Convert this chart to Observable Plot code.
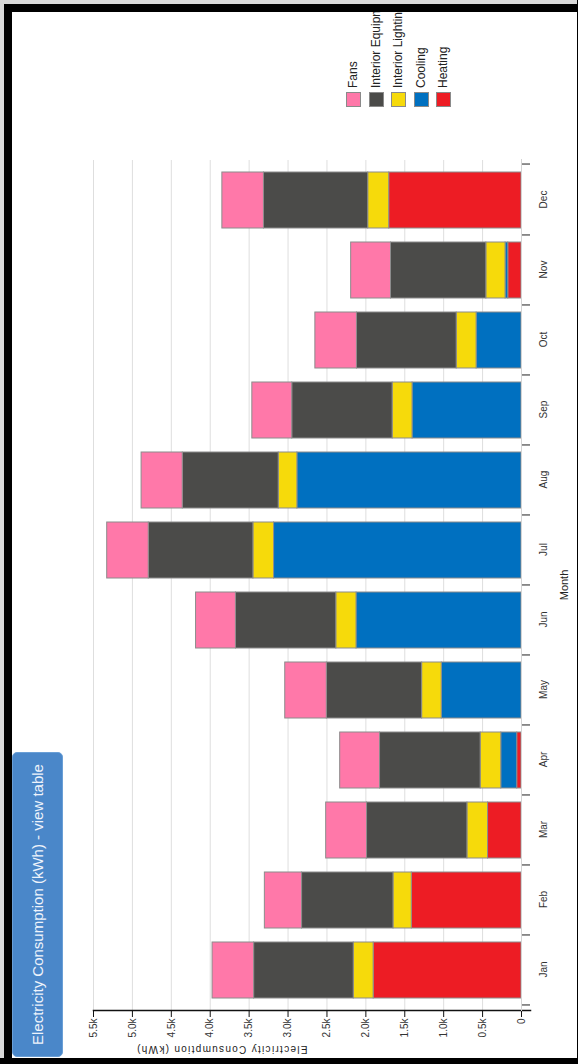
<!DOCTYPE html>
<html>
<head>
<meta charset="utf-8">
<script src="https://cdn.jsdelivr.net/npm/d3@7"></script>
<script src="https://cdn.jsdelivr.net/npm/@observablehq/plot@0.6"></script>
<style>
  html, body { margin: 0; padding: 0; background: #ffffff; overflow: hidden; }
  body { width: 578px; height: 1064px; position: relative; }
  #wrap {
    position: absolute; left: 0; top: 0; width: 1064px; height: 578px;
    transform-origin: 0 0; transform: translate(0, 1064px) rotate(-90deg);
    background: #ffffff; font-family: "Liberation Sans", Arial, sans-serif;
  }
  #chart { position: absolute; left: 0; top: 0; }
  #btn {
    position: absolute; left: 7px; top: 12px; width: 305px; height: 51px;
    background: #4a87c9; border-radius: 5px; border: 1px solid #6a9fd6; box-sizing: border-box;
    color: #eef3fb; font-size: 15px; line-height: 49px; padding-left: 11px; white-space: nowrap;
  }
  #legendclip { position: absolute; left: 950px; top: 330px; width: 102px; height: 140px; overflow: hidden; }
  .lrow { position: absolute; left: 7px; height: 15px; white-space: nowrap; }
  .lsw { position: absolute; left: 0; top: 0; width: 15px; height: 15px; box-sizing: border-box; border: 1px solid #8a8a8a; }
  .llab { position: absolute; left: 19px; top: 0; line-height: 15px; font-size: 12px; color: #222; }
  .bd { position: absolute; }
</style>
</head>
<body>
<div id="wrap">
  <div id="chart"></div>
  <div id="btn">Electricity Consumption (kWh) - view table</div>
  <div id="legendclip"></div>
  <div class="bd" style="left:0;top:0;width:1064px;height:4px;background:#d9d9d9"></div>
  <div class="bd" style="left:0;top:4px;width:1060px;height:8px;background:#000"></div>
  <div class="bd" style="left:0;top:0;width:6px;height:578px;background:#000"></div>
  <div class="bd" style="left:1052px;top:4px;width:8px;height:574px;background:#000"></div>
  <div class="bd" style="left:1060px;top:0;width:4px;height:578px;background:#d9d9d9"></div>
  <div class="bd" style="left:0;top:577px;width:1064px;height:1px;background:#000"></div>
</div>
<script>
// ---- data ----
const months = ["Jan","Feb","Mar","Apr","May","Jun","Jul","Aug","Sep","Oct","Nov","Dec"];
const heating   = [1900, 1410, 430,   55,    0,    0,    0,    0,    0,   0,  170, 1700];
const cooling   = [   0,    0,   0,  205, 1025, 2120, 3180, 2880, 1400, 577,   35,    0];
const lighting  = [ 256,  235, 265,  265,  252,  260,  265,  240,  256, 256,  247,  270];
const equipment = [1280, 1175, 1290, 1293, 1225, 1290, 1345, 1233, 1290, 1282, 1225, 1340];
const fans      = [ 534,  478, 525,  512,  534,  512,  534,  529,  513, 534,  512,  534];
const legendSeries = ["Fans","Interior Equipment","Interior Lighting","Cooling","Heating"];
const legendColors = ["#ff78a9","#4b4b49","#f6da0b","#0070c0","#ed1c24"];
const stackOrder = ["Heating","Cooling","Interior Lighting","Interior Equipment","Fans"];
const yTicks = [0,500,1000,1500,2000,2500,3000,3500,4000,4500,5000,5500];
const yMax = 5500;
const valuesBy = {"Heating": heating, "Cooling": cooling, "Interior Lighting": lighting, "Interior Equipment": equipment, "Fans": fans};

const rows = [];
stackOrder.forEach(s => months.forEach((m, i) => rows.push({month: m, series: s, value: valuesBy[s][i]})));

const W = 1064, H = 578, mL = 53, mR = 160, mT = 93, mB = 57;
const step = (W - mL - mR) / months.length;
const perPx = yMax / (H - mT - mB);
const tickLen = 9;

const fmt = d => d === 0 ? "0" : (d / 1000).toFixed(1) + "k";

const chart = Plot.plot({
  width: W, height: H,
  marginLeft: mL, marginRight: mR, marginTop: mT, marginBottom: mB,
  style: {fontFamily: "'Liberation Sans', Arial, sans-serif", fontSize: "10px", color: "#333", background: "transparent", overflow: "visible"},
  x: {domain: months, paddingInner: 0.2, paddingOuter: 0.1, axis: null},
  y: {domain: [0, yMax], axis: null},
  color: {domain: legendSeries, range: legendColors},
  marks: [
    Plot.gridY(yTicks, {stroke: "#dedede", strokeOpacity: 1, strokeWidth: 1}),
    Plot.barY(rows, Plot.stackY({x: "month", y: "value", fill: "series", order: stackOrder, stroke: "#8c8c8c", strokeWidth: 1})),
    Plot.axisY(yTicks, {tickFormat: fmt, tickSize: 6, tickPadding: 2, fontSize: 10, label: null, stroke: "#111", fill: "#333"}),
    Plot.axisX({tickSize: 0, tickPadding: 18, fontSize: 10, label: null, fill: "#333"}),
    Plot.ruleX(months, {x: d => d, dx: -step / 2, y1: 0, y2: -tickLen * perPx, stroke: "#222"}),
    Plot.ruleX(months.slice(-1), {x: d => d, dx: step / 2, y1: 0, y2: -tickLen * perPx, stroke: "#222"}),
    Plot.frame({anchor: "left", insetBottom: -tickLen, stroke: "#111", strokeWidth: 1.5}),
    Plot.frame({anchor: "bottom", stroke: "#d4d4d4", strokeWidth: 1}),
    Plot.text(["Electricity Consumption (kWh)"], {frameAnchor: "left", dx: -39, rotate: -90, fontSize: 10, fill: "#222"}),
    Plot.text(["Month"], {frameAnchor: "bottom", dy: 46, fontSize: 11, fill: "#222"})
  ]
});
document.getElementById("chart").appendChild(chart);
// letter spacing for value-axis title
d3.select(chart).selectAll("text").filter(function() { return this.textContent === "Electricity Consumption (kWh)"; })
  .style("letter-spacing", "1.3px");

// legend
const clip = document.getElementById("legendclip");
legendSeries.forEach((s, i) => {
  const row = document.createElement("div");
  row.className = "lrow";
  row.style.top = (16 + i * 22.5) + "px";
  const sw = document.createElement("div");
  sw.className = "lsw";
  sw.style.background = legendColors[i];
  const lab = document.createElement("div");
  lab.className = "llab";
  lab.textContent = s;
  row.appendChild(sw); row.appendChild(lab);
  clip.appendChild(row);
});
</script>
</body>
</html>
